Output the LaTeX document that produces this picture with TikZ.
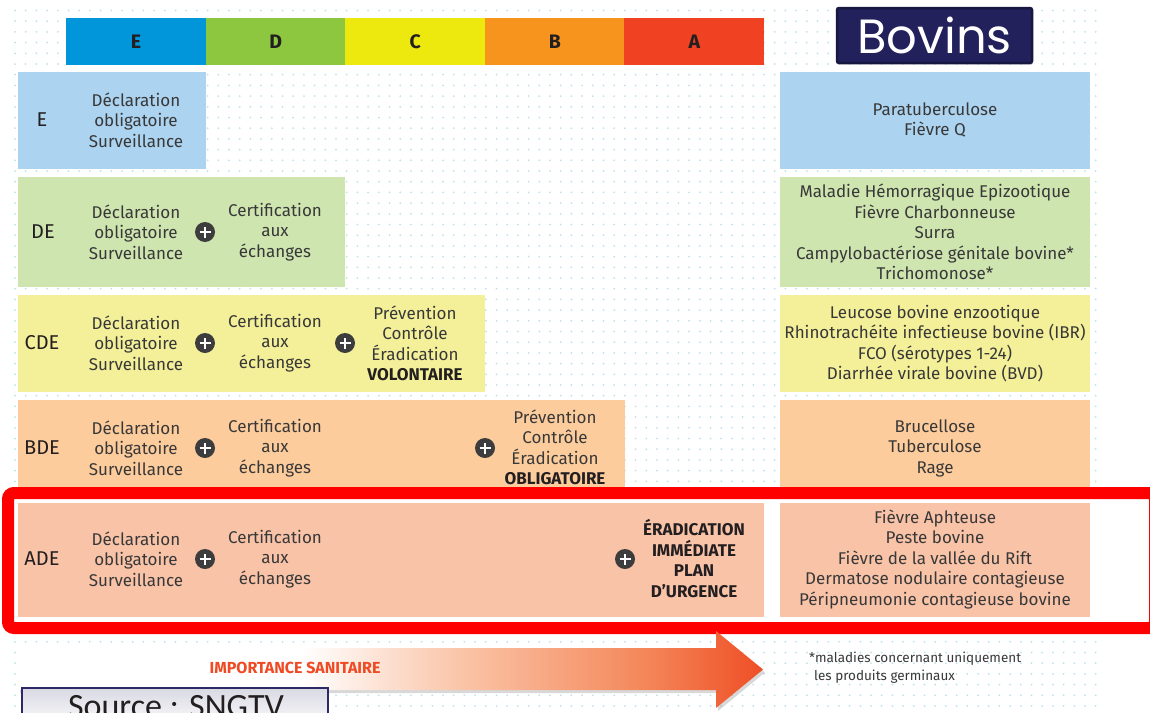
\documentclass[tikz,border=0pt]{standalone}
\usepackage{fontspec}
\setmainfont{Fira Sans}
\newfontfamily\bovfont{Poppins}
\newfontfamily\srcfont{Carlito}
\usetikzlibrary{shadows,calc}
\definecolor{catE}{HTML}{0096D9}
\definecolor{catD}{HTML}{8DC63F}
\definecolor{catC}{HTML}{EDE80E}
\definecolor{catB}{HTML}{F7941D}
\definecolor{catA}{HTML}{F04223}
\definecolor{rowE}{HTML}{ACD3F0}
\definecolor{rowD}{HTML}{CFE5B0}
\definecolor{rowC}{HTML}{F4F09A}
\definecolor{rowB}{HTML}{FDCC9C}
\definecolor{rowA}{HTML}{F9C3A8}
\definecolor{txtgray}{HTML}{383838}
\definecolor{txtdark}{HTML}{231F20}
\definecolor{plusgray}{HTML}{3D3D3D}
\definecolor{dotcol}{HTML}{BCE3EC}
\definecolor{bovfill}{HTML}{22215B}
\definecolor{bovline}{HTML}{18173F}
\definecolor{imp}{HTML}{EF4A23}
\definecolor{arrA}{HTML}{FAC3A6}
\definecolor{arrB}{HTML}{F4875A}
\definecolor{arrC}{HTML}{EF4E25}
\definecolor{srcline}{HTML}{2B2A66}
\definecolor{srctop}{HTML}{D9D9E3}
\pgfdeclarehorizontalshading{impshade}{100bp}{color(0bp)=(white); color(25bp)=(white);
  color(44bp)=(white); color(55bp)=(arrA); color(67bp)=(arrB); color(75bp)=(arrC); color(100bp)=(arrC)}
\tikzset{
  txt/.style={align=center, text=txtgray, inner sep=0pt, font=\fontsize{17}{20.5}\selectfont},
  bold/.style={txt, text=txtdark, font=\fontsize{17}{20.5}\selectfont\bfseries},
  lbl/.style={text=txtdark, inner sep=0pt, font=\fontsize{20}{24}\selectfont},
  hdr/.style={text=txtdark, inner sep=0pt, font=\fontsize{19.5}{22}\selectfont\bfseries},
  plus/.style={circle, fill=plusgray, minimum size=20pt, inner sep=0pt,
    path picture={\draw[white, line width=2.8pt]
      ([xshift=-5.5pt]path picture bounding box.center) -- ([xshift=5.5pt]path picture bounding box.center)
      ([yshift=-5.5pt]path picture bounding box.center) -- ([yshift=5.5pt]path picture bounding box.center);}},
  note/.style={text=txtgray, inner sep=0pt, align=left, font=\fontsize{13.5}{17.5}\selectfont}
}

\begin{document}
\begin{tikzpicture}[x=1pt, y=-1pt]
\clip (0,0) rectangle (1150,712);
\fill[white] (0,0) rectangle (1150,712);
\foreach \y in {10.5,21.2,...,712}
  \draw[dotcol, line width=2pt, line cap=round, dash pattern=on 0pt off 10.7pt] (15,\y) -- (1096,\y);

\foreach \l/\c [count=\i] in {E/catE,D/catD,C/catC,B/catB,A/catA} {
  \fill[\c] ({66+139.6*(\i-1)},18) rectangle ++(139.6,47);
  \node[hdr] (hdr\l) at ({136+139.6*(\i-1)},41.5) {\l};
}
\draw[bovline, line width=2.5pt, fill=bovfill, rounded corners=2pt] (837,8) rectangle (1032,63);
\node[text=white, font=\fontsize{48}{50}\selectfont\bovfont, anchor=base, inner sep=0pt] (bovins) at (934.5,53) {Bovins};

\fill[rowE] (18,72) rectangle (206,169);
\fill[rowD] (18,177) rectangle (345,287);
\fill[rowC] (18,295) rectangle (485,392);
\fill[rowB] (18,400) rectangle (625,497);
\fill[rowE] (780,72) rectangle (1090,169);
\fill[rowD] (780,177) rectangle (1090,287);
\fill[rowC] (780,295) rectangle (1090,392);
\fill[rowB] (780,400) rectangle (1090,497);

\draw[red, line width=12pt, fill=white, rounded corners=6pt] (8,493) rectangle (1155,628);
\fill[rowA] (18,503) rectangle (764,617);
\fill[rowA] (780,503) rectangle (1090,617);

\node[lbl] (lblE) at (42,120) {E};
\node[lbl] (lblDE) at (43,232) {DE};
\node[lbl] (lblCDE) at (42,343) {CDE};
\node[lbl] (lblBDE) at (42,448) {BDE};
\node[lbl] (lblADE) at (42,559) {ADE};

\foreach \r/\y in {E/120,DE/232,CDE/343,BDE/448,ADE/559}
  \node[txt] (decl\r) at (136,\y) {Déclaration\\obligatoire\\Surveillance};
\foreach \r/\y in {DE/232,CDE/343,BDE/448,ADE/559} {
  \node[plus] (plusA\r) at (205,\y) {};
  \node[txt] (cert\r) at (275,\y) {Certification\\aux\\échanges};
}
\node[plus] (plusBCDE) at (345,343) {};
\node[txt] (prevCDE) at (415,343.5) {Prévention\\Contrôle\\Éradication\\\textbf{\color{txtdark}VOLONTAIRE}};
\node[plus] (plusBBDE) at (485,448) {};
\node[txt] (prevBDE) at (555,447.5) {Prévention\\Contrôle\\Éradication\\\textbf{\color{txtdark}OBLIGATOIRE}};
\node[plus] (plusBADE) at (625,559) {};
\node[bold] (eradADE) at (694,558.5) {ÉRADICATION\\IMMÉDIATE\\PLAN\\D'URGENCE};

\node[txt] (malE) at (935,120) {Paratuberculose\\Fièvre Q};
\node[txt] (malDE) at (935,232) {Maladie Hémorragique Epizootique\\Fièvre Charbonneuse\\Surra\\Campylobactériose génitale bovine*\\Trichomonose*};
\node[txt] (malCDE) at (935,343.5) {Leucose bovine enzootique\\Rhinotrachéite infectieuse bovine (IBR)\\FCO (sérotypes 1-24)\\Diarrhée virale bovine (BVD)};
\node[txt] (malBDE) at (935,448) {Brucellose\\Tuberculose\\Rage};
\node[txt] (malADE) at (935,559) {Fièvre Aphteuse\\Peste bovine\\Fièvre de la vallée du Rift\\Dermatose nodulaire contagieuse\\Péripneumonie contagieuse bovine};

\shade[shading=impshade, drop shadow={opacity=0.3, shadow xshift=2pt, shadow yshift=-3pt}]
  (18,648) -- (716,648) -- (716,631) -- (763,669.5) -- (716,708) -- (716,690) -- (18,690) -- cycle;
\node[text=imp, inner sep=0pt, font=\fontsize{16}{18}\selectfont\bfseries] (impo) at (295,668) {IMPORTANCE SANITAIRE};
\node[note, anchor=north west] (note) at (809,652) {*maladies concernant uniquement\\\hspace*{5pt}les produits germinaux};

\draw[srcline, line width=1.8pt, top color=srctop, bottom color=white] (22,688) rectangle (328,730);
\node[font=\fontsize{34}{36}\selectfont\srcfont, text=txtdark, anchor=base, inner sep=0pt] (src) at (176,717) {Source : SNGTV};
\end{tikzpicture}
\end{document}
